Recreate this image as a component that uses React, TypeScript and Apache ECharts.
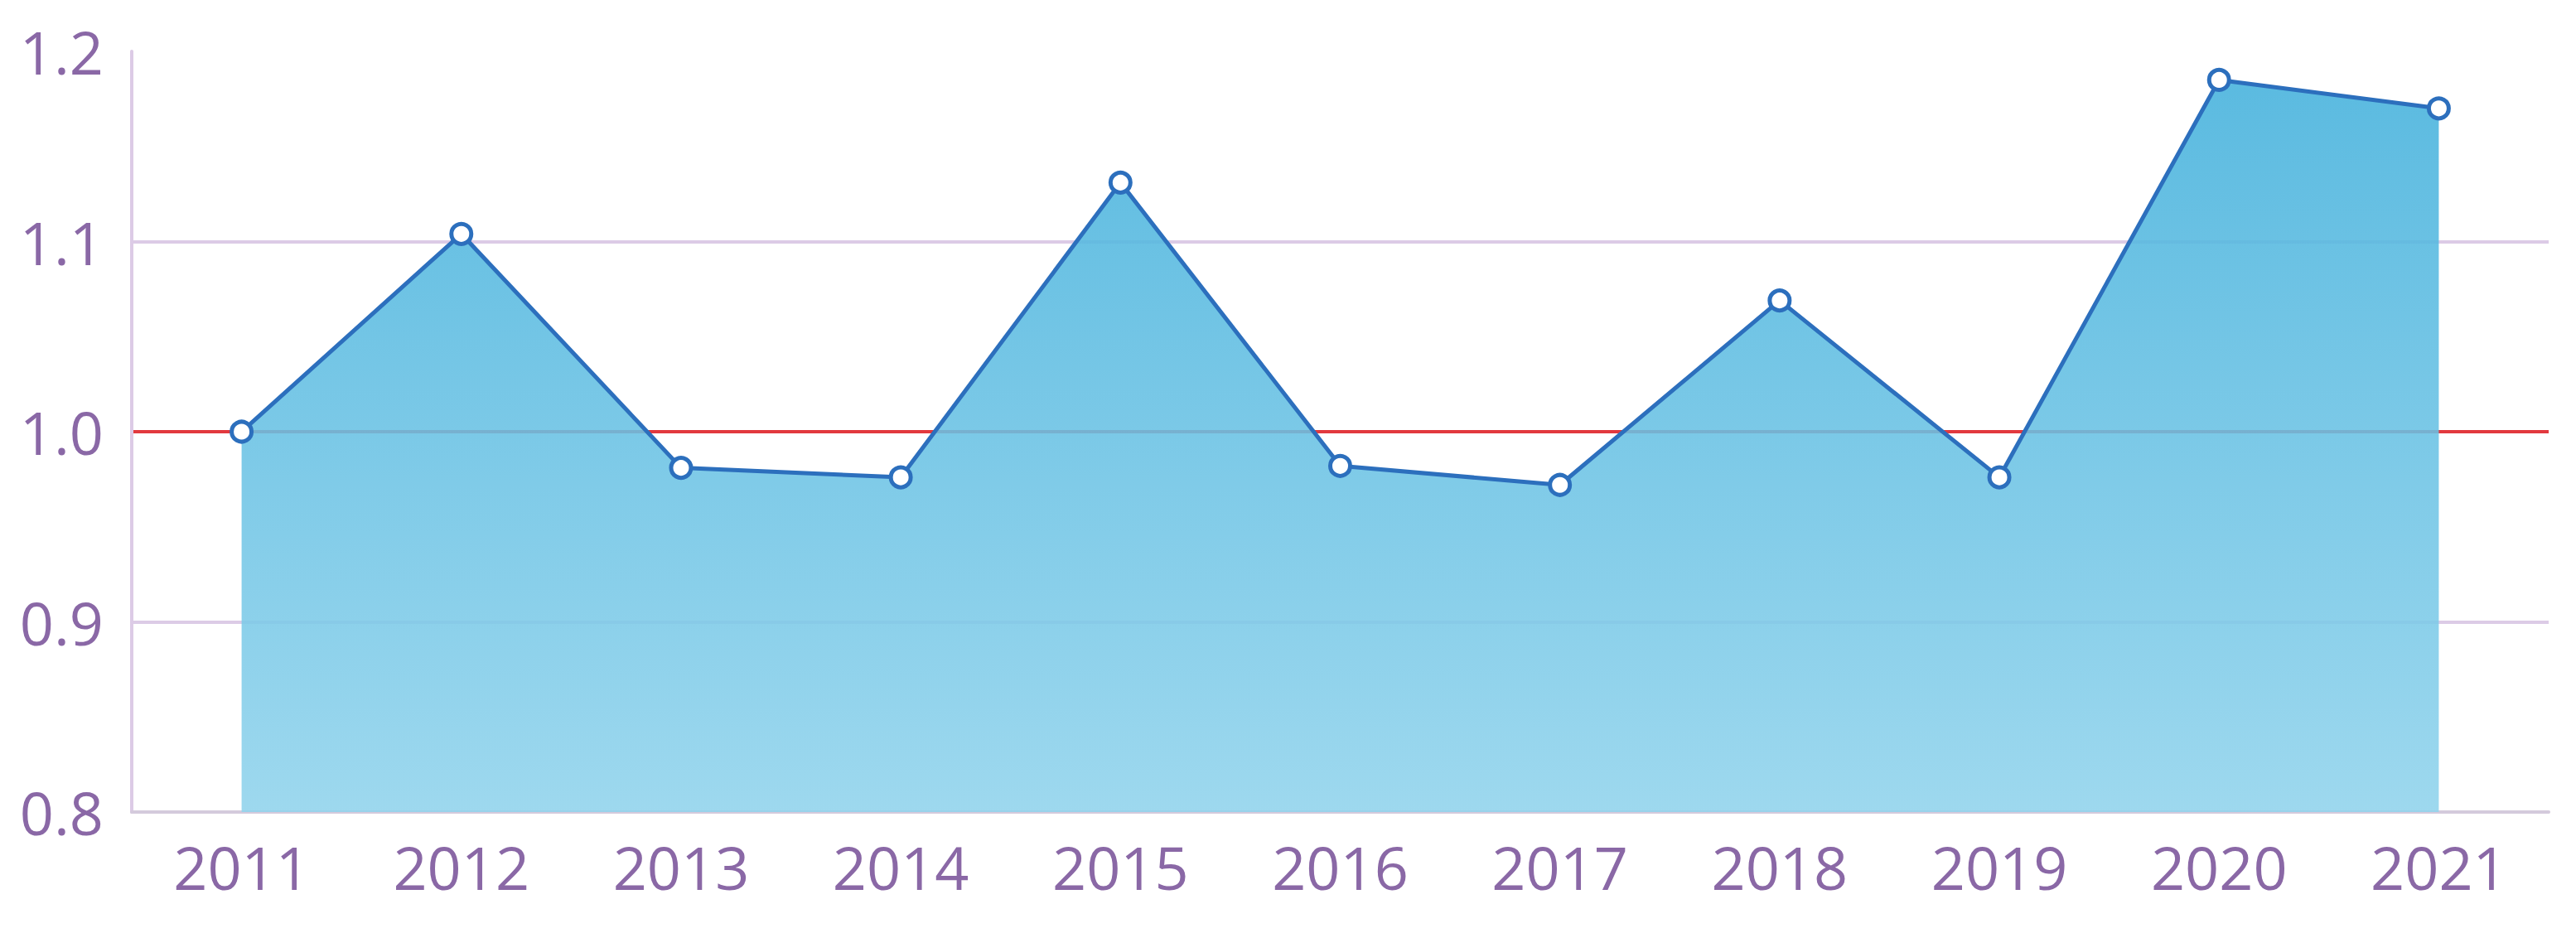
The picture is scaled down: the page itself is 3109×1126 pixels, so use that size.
import React, { useEffect, useRef } from "react";
import * as echarts from "echarts";

const years: string[] = ["2011", "2012", "2013", "2014", "2015", "2016", "2017", "2018", "2019", "2020", "2021"];
const values: number[] = [1.0, 1.104, 0.981, 0.976, 1.131, 0.982, 0.972, 1.069, 0.976, 1.185, 1.17];
const yTicks: number[] = [0.8, 0.9, 1.0, 1.1, 1.2];

const labelColor = "#8a68a6";
const gridColor = "#dccbe6";

export default function App() {
  const ref = useRef<HTMLDivElement>(null);
  useEffect(() => {
    if (!ref.current) return;
    const chart = echarts.init(ref.current, null, { renderer: "svg" });
    chart.setOption({
      animation: false,
      backgroundColor: "#ffffff",
      grid: { left: 159, right: 33, top: 62, bottom: 146 },
      xAxis: {
        type: "category",
        data: years,
        boundaryGap: true,
        axisLine: { show: true, lineStyle: { color: "#d4cadc", width: 4 } },
        axisTick: { show: false },
        axisLabel: {
          color: labelColor,
          fontSize: 72,
          fontFamily: "Open Sans",
          margin: 30,
        },
        splitLine: { show: false },
      },
      yAxis: {
        type: "value",
        min: yTicks[0],
        max: yTicks[yTicks.length - 1],
        interval: 0.1,
        axisLine: { show: true, lineStyle: { color: gridColor, width: 4 } },
        axisTick: { show: false },
        axisLabel: {
          color: labelColor,
          fontSize: 72,
          fontFamily: "Open Sans",
          margin: 34,
          formatter: (v: number) => v.toFixed(1),
        },
        splitLine: {
          show: true,
          showMinLine: false,
          showMaxLine: false,
          lineStyle: {
            width: 4,
            color: [gridColor, "#e2393e", gridColor],
          },
        },
      },
      series: [
        {
          type: "line",
          data: values,
          symbol: "circle",
          symbolSize: 24,
          itemStyle: { color: "#ffffff", borderColor: "#2c6fbd", borderWidth: 5 },
          lineStyle: { color: "#2c6fbd", width: 5 },
          areaStyle: {
            opacity: 0.88,
            color: new echarts.graphic.LinearGradient(0, 0, 0, 1, [
              { offset: 0, color: "#44b1dc" },
              { offset: 1, color: "#90d3ec" },
            ]),
          },
        },
      ],
    });
    return () => chart.dispose();
  }, []);
  return (
    <div
      ref={ref}
      style={{ position: "fixed", left: 0, top: 0, width: 3109, height: 1126 }}
    />
  );
}
